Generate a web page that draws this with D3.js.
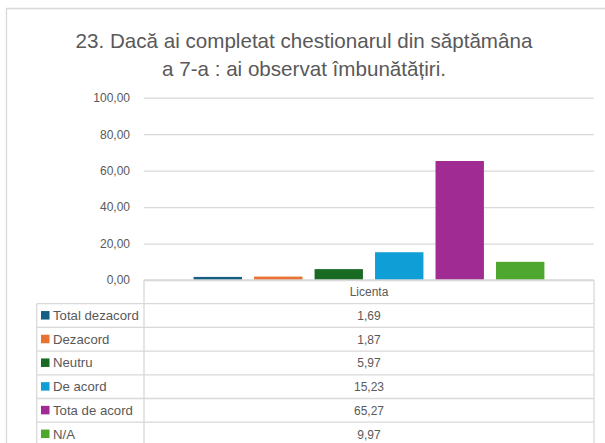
<!DOCTYPE html>
<html>
<head>
<meta charset="utf-8">
<script src="https://cdn.jsdelivr.net/npm/d3@7"></script>
<style>
  body { margin: 0; background: #fff; }
  svg { display: block; font-family: "Liberation Sans", Arial, sans-serif; }
</style>
</head>
<body>
<div class="chart"></div>
<script>
const titleLines = ["23. Dacă ai completat chestionarul din săptămâna", "a 7-a : ai observat îmbunătățiri."]
const categories = ["Licenta"]
const seriesNames = ["Total dezacord", "Dezacord", "Neutru", "De acord", "Tota de acord", "N/A"]
const seriesValues = [1.69, 1.87, 5.97, 15.23, 65.27, 9.97]
const seriesColors = ["#156082", "#E97132", "#196B24", "#0F9ED5", "#A02B93", "#4EA72E"]
const yTicks = [0, 20, 40, 60, 80, 100]

let width = 605, height = 443
let plotLeft = 144, plotRight = 594, plotTop = 97.7, plotBottom = 280
let rowH = 23.7, legendLeft = 36.7
let textColor = "#595959", lineColor = "#d9d9d9"
let fmt = d => d.toFixed(2).replace(".", ",")

let svg = d3.select(".chart")
    .append("svg")
    .attr("width", width)
    .attr("height", height)

// chenarul exterior
svg.append("path")
    .attr("fill", "none")
    .attr("stroke", lineColor)
    .attr("stroke-width", 1.3)
    .attr("d", `M6.5,${height} V8.5 H${width}`)

// titlu
svg.append("g")
    .selectAll("text")
    .data(titleLines)
    .enter()
    .append("text")
    .attr("x", 304)
    .attr("y", (d, i) => 47.5 + i * 28.5)
    .attr("text-anchor", "middle")
    .attr("font-size", 20.6)
    .attr("fill", textColor)
    .text(d => d)

let yScale = d3.scaleLinear()
    .domain([0, 100])
    .range([plotBottom, plotTop])

let xScale = d3.scaleBand()
    .domain(categories)
    .range([plotLeft, plotRight])
    .paddingInner(0)
    .paddingOuter(0.1)

let xInner = d3.scaleBand()
    .domain(seriesNames)
    .range([0, xScale.bandwidth()])
    .padding(0.2)

// axa y
let yAxis = svg.append("g")
    .attr("transform", `translate(${plotLeft},0)`)
    .call(d3.axisLeft(yScale).tickValues(yTicks).tickFormat(fmt).tickSize(-(plotRight - plotLeft)).tickPadding(14))
yAxis.select(".domain").remove()
yAxis.selectAll("line").attr("stroke", lineColor).attr("stroke-width", 1.3)
yAxis.selectAll("text").attr("fill", textColor).attr("font-size", 12).attr("font-family", "Liberation Sans, Arial, sans-serif")

// bare
svg.append("g")
    .selectAll("rect")
    .data(seriesValues)
    .enter()
    .append("rect")
    .attr("x", (d, i) => xScale(categories[0]) + xInner(seriesNames[i]))
    .attr("y", d => yScale(d))
    .attr("width", xInner.bandwidth())
    .attr("height", d => plotBottom - yScale(d))
    .attr("fill", (d, i) => seriesColors[i])

// tabelul de date
let table = svg.append("g")
    .attr("stroke", lineColor)
    .attr("stroke-width", 1.3)
    .attr("fill", "none")
let nRows = seriesNames.length
table.append("path")
    .attr("d", `M${plotLeft},${plotBottom} H${plotRight}`)
table.append("path")
    .attr("d", `M${plotLeft},${plotBottom} V${height} M${plotRight},${plotBottom} V${height} M${legendLeft},${plotBottom + rowH} V${height}`)
table.selectAll(".row-line")
    .data(d3.range(nRows))
    .enter()
    .append("path")
    .attr("d", i => `M${legendLeft},${plotBottom + rowH * (i + 1)} H${plotRight}`)

let colCenter = xScale(categories[0]) + xScale.bandwidth() / 2
svg.append("text")
    .attr("x", colCenter)
    .attr("y", plotBottom + rowH / 2 + 4.5)
    .attr("text-anchor", "middle")
    .attr("font-size", 12)
    .attr("fill", textColor)
    .text(categories[0])

let rows = svg.append("g")
    .selectAll("g")
    .data(seriesNames)
    .enter()
    .append("g")
    .attr("transform", (d, i) => `translate(0,${plotBottom + rowH * (i + 1)})`)
rows.append("rect")
    .attr("x", 41)
    .attr("y", rowH / 2 - 4.5)
    .attr("width", 8.5)
    .attr("height", 8.5)
    .attr("fill", (d, i) => seriesColors[i])
rows.append("text")
    .attr("x", 53)
    .attr("y", rowH / 2 + 4.5)
    .attr("font-size", 13.2)
    .attr("fill", textColor)
    .text(d => d)
rows.append("text")
    .attr("x", colCenter)
    .attr("y", rowH / 2 + 4.5)
    .attr("text-anchor", "middle")
    .attr("font-size", 12)
    .attr("fill", textColor)
    .text((d, i) => fmt(seriesValues[i]))
</script>
</body>
</html>
